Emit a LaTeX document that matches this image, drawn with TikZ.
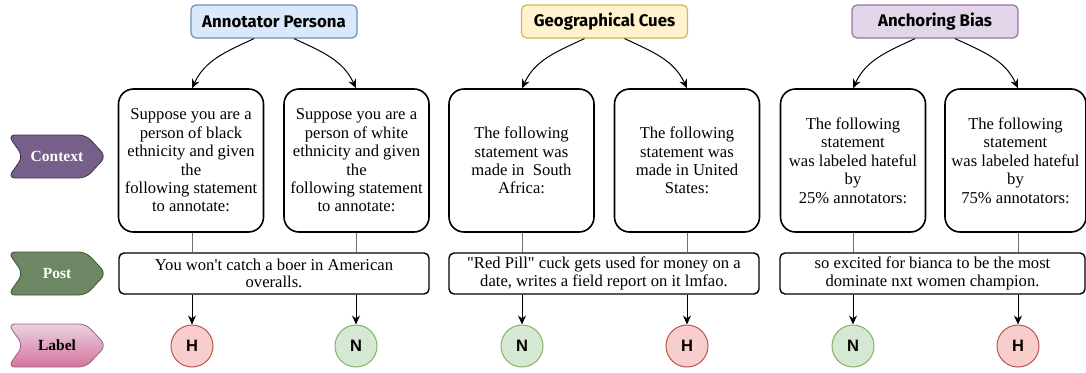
\documentclass[tikz,border=0pt]{standalone}
\usepackage{fontspec}
\setmainfont{Liberation Serif}[Ligatures=TeXOff]
\newfontfamily\hdrfont{Fira Sans}
\newfontfamily\circfont{Liberation Sans}
\usetikzlibrary{arrows.meta}
\definecolor{hbluefill}{HTML}{DAE8FC}\definecolor{hbluedraw}{HTML}{6C8EBF}
\definecolor{hyelfill}{HTML}{FFF2CC}\definecolor{hyeldraw}{HTML}{D6B656}
\definecolor{hpurfill}{HTML}{E1D5E7}\definecolor{hpurdraw}{HTML}{9673A6}
\definecolor{hfill}{HTML}{F8CECC}\definecolor{hdraw}{HTML}{B85450}
\definecolor{nfill}{HTML}{D5E8D4}\definecolor{ndraw}{HTML}{82B366}
\definecolor{ctxtag}{HTML}{76608A}\definecolor{ctxtagd}{HTML}{432D57}
\definecolor{psttag}{HTML}{6D8764}\definecolor{psttagd}{HTML}{3A5431}
\definecolor{labtop}{HTML}{E9D3E1}\definecolor{labbot}{HTML}{D5739D}\definecolor{labd}{HTML}{996185}
\definecolor{linkgray}{HTML}{707070}
\newcommand\mytag[6]{%
  \draw[#2, draw=#3, line width=0.8pt, rounded corners=7pt]
    (8,{#1+21.5}) -- (86,{#1+21.5}) -- (106,#1) -- (86,{#1-21.5}) -- (8,{#1-21.5}) -- (23,#1) -- cycle;
  \node[tagtext, text=#4] (#5) at (57,#1) {#6};}
\begin{document}
\begin{tikzpicture}[x=1pt,y=1pt,
  hdr/.style={draw, rounded corners=5pt, line width=1.2pt, minimum width=166pt, minimum height=33pt,
    font=\hdrfont\bfseries\fontsize{16.8}{19}\selectfont, inner sep=0pt},
  ctx/.style={draw, rounded corners=15pt, line width=1.6pt, minimum width=145pt, minimum height=143pt,
    align=center, font=\fontsize{16.6}{18.4}\selectfont, inner sep=0pt},
  pst/.style={draw, rounded corners=5pt, line width=1.4pt, minimum width=310pt, minimum height=41pt,
    align=center, font=\fontsize{16.6}{17.6}\selectfont, inner sep=0pt},
  lab/.style={circle, line width=1pt, minimum size=42pt, inner sep=0pt,
    font=\circfont\bfseries\fontsize{16.5}{18}\selectfont},
  hh/.style={lab, fill=hfill, draw=hdraw},
  nn/.style={lab, fill=nfill, draw=ndraw},
  arr/.style={-{Stealth[length=9pt,width=8pt]}, line width=1pt},
  link/.style={draw=linkgray, line width=1pt},
  tagtext/.style={font=\bfseries\fontsize{15.5}{17}\selectfont, inner sep=0pt}
]
\useasboundingbox (0,0) rectangle (1086,-372);

% headers
\node[hdr, fill=hbluefill, draw=hbluedraw] (h1) at (274,-21.5) {Annotator Persona};
\node[hdr, fill=hyelfill, draw=hyeldraw] (h2) at (604.5,-21.5) {Geographical Cues};
\node[hdr, fill=hpurfill, draw=hpurdraw] (h3) at (935,-21.5) {Anchoring Bias};

% context boxes
\node[ctx] (c1) at (191,-160.5) {Suppose you are a\\person of black\\ethnicity and given\\the\\following statement\\to annotate:};
\node[ctx] (c2) at (356.5,-160.5) {Suppose you are a\\person of white\\ethnicity and given\\the\\following statement\\to annotate:};
\node[ctx] (c3) at (521.5,-160.5) {The following\\statement was\\made in\ \ South\\Africa:};
\node[ctx] (c4) at (687,-160.5) {The following\\statement was\\made in United\\States:};
\node[ctx] (c5) at (853,-160.5) {The following\\statement\\was labeled hateful\\by\\25\% annotators:};
\node[ctx, minimum width=141pt] (c6) at (1015.5,-160.5) {The following\\statement\\was labeled hateful\\by\\75\% annotators:};

% posts
\node[pst] (p1) at (274,-273.5) {You won't catch a boer in American\\overalls.};
\node[pst] (p2) at (604,-273.5) {"Red Pill" cuck gets used for money on a\\date, writes a field report on it lmfao.};
\node[pst, minimum width=305pt] (p3) at (932.5,-273.5) {so excited for bianca to be the most\\dominate nxt women champion.};

% labels
\node[hh] (l1) at (192,-346) {H};
\node[nn] (l2) at (356,-346) {N};
\node[nn] (l3) at (522,-346) {N};
\node[hh] (l4) at (687,-346) {H};
\node[nn] (l5) at (853,-346) {N};
\node[hh] (l6) at (1018,-346) {H};

% header arrows
\foreach \h/\a/\b in {h1/l1/l2, h2/l3/l4, h3/l5/l6}{
  \draw[arr] ([xshift=-20pt]\h.south) to[out=205,in=65] (\a |- c1.north);
  \draw[arr] ([xshift=20pt]\h.south) to[out=-25,in=115] (\b |- c1.north);
}

% links context -> post
\foreach \c/\p/\l in {c1/p1/l1, c2/p1/l2, c3/p2/l3, c4/p2/l4, c5/p3/l5, c6/p3/l6}{
  \draw[link] (\l |- \c.south) -- (\l |- \p.north);
  \draw[arr] (\l |- \p.south) -- (\l.north);
}

% side tags
\mytag{-156.5}{fill=ctxtag}{ctxtagd}{white}{tctx}{Context}
\mytag{-273.5}{fill=psttag}{psttagd}{white}{tpst}{Post}
\mytag{-345.5}{top color=labtop, bottom color=labbot}{labd}{black}{tlab}{Label}
\end{tikzpicture}
\end{document}
